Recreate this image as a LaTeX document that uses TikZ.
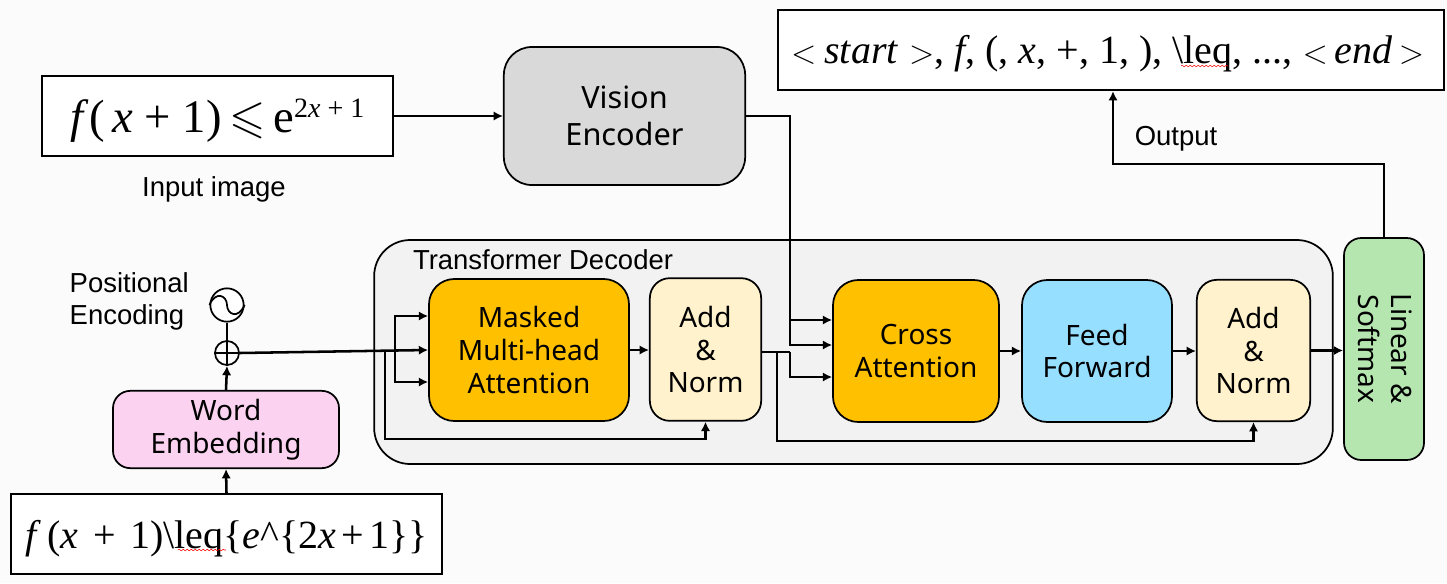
\documentclass[tikz,border=0pt]{standalone}
\usepackage{amsmath,amssymb}
\usepackage{fontspec}
\setmainfont{Liberation Sans}
\newfontfamily\boxfont{Noto Sans}
\newfontfamily\formulafont{Liberation Serif}
\usepackage{xcolor}
\usetikzlibrary{shapes,arrows,positioning,calc,decorations.pathmorphing,arrows.meta}

\definecolor{pagegray}{HTML}{FBFBFB}
\definecolor{decodergray}{HTML}{F2F2F2}
\definecolor{encodergray}{HTML}{D9D9D9}
\definecolor{attnorange}{HTML}{FFC000}
\definecolor{normcream}{HTML}{FFF2CC}
\definecolor{feedblue}{HTML}{97DFFF}
\definecolor{softgreen}{HTML}{B6E6B0}
\definecolor{wordpink}{HTML}{FBD3F1}

\tikzset{
    block/.style={draw, line width=1.3pt, rounded corners=19pt, inner sep=0pt, align=center, font=\boxfont\fontsize{21}{24.7}\selectfont},
    framebox/.style={draw, line width=1.7pt, fill=white, inner sep=0pt},
    link/.style={line width=1.9pt, -{Latex[length=7pt,width=7pt]}},
    plainlink/.style={line width=1.9pt},
    caption/.style={font=\fontsize{20.6}{24}\selectfont, align=left},
    spellmark/.style={red, line width=0.4pt, decorate, decoration={snake, amplitude=0.6pt, segment length=3pt}},
}

\begin{document}
\begin{tikzpicture}[x=0.75pt, y=-0.75pt]
    \useasboundingbox[fill=pagegray] (0,0) rectangle (1447,583);

    % Decoder frame
    \node[draw, line width=1.3pt, fill=decodergray, rounded corners=27pt, minimum width=719pt, minimum height=168pt] (decoder) at (853.5,352) {};
    \node[caption] (decoderlabel) at (543,260) {Transformer Decoder};

    % Input side
    \node[framebox, minimum width=263pt, minimum height=60pt] (inputimg) at (217.5,116) {\raisebox{-12pt}[0pt][0pt]{\formulafont\fontsize{35}{35}\selectfont \textit{f}(\,\textit{x} + 1)\,$\leqslant$\,e\raisebox{11pt}{\fontsize{21}{21}\selectfont 2\textit{x} + 1}}};
    \node[caption] (inputlabel) at (214,189) {Input image};
    \node[block, fill=encodergray, rounded corners=21pt, minimum width=181pt, minimum height=103.5pt, font=\boxfont\fontsize{23}{27.7}\selectfont] (vision) at (624.5,116) {Vision\\Encoder};

    % Target side
    \node[framebox, minimum width=323pt, minimum height=60pt] (target) at (226.5,534) {\raisebox{-10.5pt}[0pt][0pt]{\formulafont\fontsize{30}{30}\selectfont \textit{f}\,(\textit{x}\kern11pt+\kern11pt1)\textbackslash leq\{\textit{e}\textasciicircum\{2\textit{x}\kern4pt+\kern4pt1\}\}}};
    \node[block, fill=wordpink, rounded corners=13pt, minimum width=169.5pt, minimum height=58pt] (word) at (226,429.5) {Word\\Embedding};
    \node[draw, line width=1.3pt, circle, inner sep=0pt, minimum size=18pt] (plus) at (227,353) {};
    \draw[line width=1.3pt] (plus.north) -- (plus.south) (plus.west) -- (plus.east);
    \node[draw, line width=1.3pt, circle, fill=white, inner sep=0pt, minimum size=25pt] (sine) at (227,305) {};
    \draw[line width=1.3pt] (sine.west) .. controls (216,290) and (227,296) .. (sine.center) .. controls (227,314) and (238,320) .. (sine.east);
    \node[caption, anchor=west] (poslabel) at (65,301) {Positional\\Encoding};

    % Decoder blocks
    \node[block, fill=attnorange, minimum width=150pt, minimum height=106.5pt] (masked) at (529,350) {Masked\\Multi-head\\Attention};
    \node[block, fill=normcream, rounded corners=15pt, minimum width=83.5pt, minimum height=107pt] (addone) at (705.5,349.5) {Add\\\&\\Norm};
    \node[block, fill=attnorange, minimum width=124.5pt, minimum height=106.5pt] (cross) at (916,351) {Cross\\Attention};
    \node[block, fill=feedblue, minimum width=112.5pt, minimum height=106.5pt] (feed) at (1097,351) {Feed\\Forward};
    \node[block, fill=normcream, rounded corners=15pt, minimum width=85pt, minimum height=106pt] (addtwo) at (1253.5,350.5) {Add\\\&\\Norm};
    \node[block, fill=softgreen, rounded corners=13pt, minimum width=60pt, minimum height=166.5pt] (softmax) at (1384,349) {};
    \node[font=\boxfont\fontsize{21}{24.7}\selectfont, align=center, rotate=-90] (softmaxlabel) at (1385,349) {Linear \&\\Softmax};

    % Output side
    \node[framebox, minimum width=499.5pt, minimum height=60pt] (output) at (1111,50) {\raisebox{-10pt}[0pt][0pt]{\formulafont\fontsize{30}{30}\selectfont $<$\kern6pt\textit{start}\kern8pt$>$, \textit{f}, (, \textit{x}, +, 1, ), \textbackslash leq, ..., $<$\,\textit{end}\,$>$\kern5pt}};
    \node[caption] (outputlabel) at (1176,139) {Output};

    % Spell check marks
    \draw[spellmark] (178,550) -- (226,550);
    \draw[spellmark] (1181,66) -- (1228,66);

    % Branch points
    \coordinate (inmid) at (395,351);
    \coordinate (inlow) at (385,351);
    \coordinate (visdown) at (790,320);
    \coordinate (addsplit) at (790,352);
    \coordinate (addlow) at (777,352);

    % Connectors
    \draw[link] (inputimg.east) -- (vision.west);
    \draw[link] (target.north) -- (word.south);
    \draw[link] (word.north) -- (plus.south);
    \draw[plainlink] (sine.south) -- (plus.north);
    \draw[link] (plus.east) -- (masked.west);
    \draw[link] (inmid) |- ($(masked.west)+(0,-34)$);
    \draw[link] (inmid) |- ($(masked.west)+(0,32)$);
    \draw[link] (inlow) |- (385,439) -| (addone.south);
    \draw[link] (masked.east) -- (addone.west |- masked.east);
    \draw[link] (vision.east) -| (790,345) -- (cross.west |- 0,345);
    \draw[link] (visdown) -- (cross.west |- visdown);
    \draw[plainlink] (addone.east |- addsplit) -- (addsplit);
    \draw[link] (addsplit) |- (cross.west |- 0,377);
    \draw[link] (addlow) |- (777,441) -| (addtwo.south);
    \draw[link] (cross.east) -- (feed.west);
    \draw[link] (feed.east) -- (addtwo.west |- feed.east);
    \draw[link] (addtwo.east) -- (softmax.west |- addtwo.east);
    \draw[link] (softmax.north) -- (1384,164) -| (1113,164) -- (output.south -| 1113,0);
\end{tikzpicture}
\end{document}
